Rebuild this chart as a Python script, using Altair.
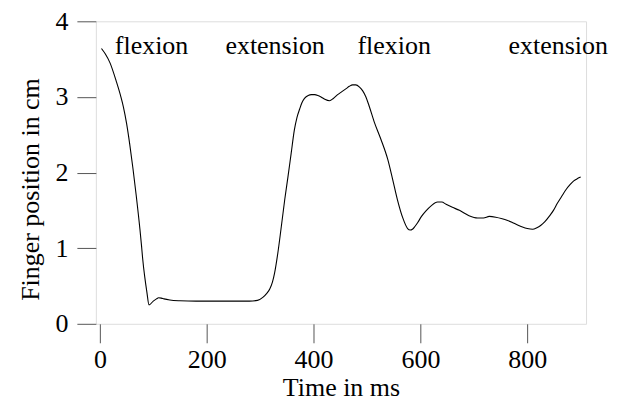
import altair as alt
import pandas as pd

# Time (ms) and finger position (cm)
time_ms = [3, 10, 19, 31, 39, 44, 50, 56, 62, 68, 75, 78, 80, 84, 88, 92,
           100, 106, 110, 115, 120, 131, 150, 180, 220, 260, 280, 295, 305,
           312, 318, 323, 327, 333, 339, 346, 352, 358, 364, 369, 374, 378,
           383, 390, 396, 402, 408, 414, 421, 430, 437, 445, 453, 461, 467,
           473, 479, 486, 492, 498, 504, 514, 526, 539, 548, 557, 567, 576,
           581, 585, 590, 595, 602, 610, 620, 632, 640, 648, 660, 673, 691,
           707, 718, 729, 741, 753, 762, 772, 781, 791, 800, 810, 818, 825,
           833, 841, 849, 856, 864, 872, 880, 887, 894, 900]
position_cm = [3.64, 3.57, 3.45, 3.20, 3.01, 2.87, 2.65, 2.37, 2.05, 1.70,
               1.25, 1.03, 0.87, 0.62, 0.42, 0.25,
               0.30, 0.33, 0.345, 0.34, 0.33, 0.315, 0.305, 0.30, 0.30, 0.30,
               0.30, 0.31, 0.35, 0.40, 0.46, 0.55, 0.67, 0.93, 1.25, 1.64,
               1.94, 2.25, 2.56, 2.73, 2.84, 2.92, 2.98, 3.02, 3.03, 3.03,
               3.02, 3.00, 2.97, 2.95, 2.98, 3.03, 3.07, 3.11, 3.14, 3.16,
               3.16, 3.13, 3.08, 3.00, 2.88, 2.66, 2.44, 2.17, 1.91, 1.64,
               1.40, 1.26, 1.24, 1.25, 1.29, 1.34, 1.42, 1.49, 1.56, 1.61,
               1.61, 1.58, 1.54, 1.50, 1.43, 1.40, 1.40, 1.42, 1.41, 1.39,
               1.37, 1.34, 1.31, 1.28, 1.26, 1.25, 1.27, 1.30, 1.35, 1.42,
               1.50, 1.59, 1.68, 1.77, 1.84, 1.89, 1.92, 1.94]

label_text = ["flexion", "extension", "flexion", "extension"]
label_x = [28, 235, 482, 765]
label_y = [3.57, 3.57, 3.57, 3.57]

x_ticks = [0, 200, 400, 600, 800]
y_ticks = [0, 1, 2, 3, 4]

df = pd.DataFrame({"t": time_ms, "p": position_cm})
lab = pd.DataFrame({"text": label_text, "x": label_x, "y": label_y})

FONT = "Liberation Serif"
FS = 26

x_scale = alt.Scale(domain=[-7.5, 910], nice=False, zero=False)
y_scale = alt.Scale(domain=[0, 4], nice=False)

x_axis = alt.Axis(values=x_ticks, format="d", title="Time in ms", grid=False,
                  domain=False, tickSize=19, tickColor="#555", labelPadding=4,
                  labelFlush=False, labelFont=FONT, labelFontSize=FS,
                  labelColor="black", titleFont=FONT, titleFontSize=FS,
                  titleFontWeight="normal", titleColor="black", titlePadding=2)
y_axis = alt.Axis(values=y_ticks, format="d", title="Finger position in cm",
                  grid=False, domain=False, tickSize=19, tickColor="#555",
                  labelPadding=9, labelFlush=False, labelFont=FONT,
                  labelFontSize=FS, labelColor="black", titleFont=FONT,
                  titleFontSize=FS, titleFontWeight="normal",
                  titleColor="black", titlePadding=11, titleY=168)

line = alt.Chart(df).mark_line(color="black", strokeWidth=1.1, clip=True,
                               interpolate="monotone").encode(
    x=alt.X("t:Q", scale=x_scale, axis=x_axis),
    y=alt.Y("p:Q", scale=y_scale, axis=y_axis),
)

text = alt.Chart(lab).mark_text(align="left", baseline="alphabetic", font=FONT,
                                fontSize=FS, color="black").encode(
    x=alt.X("x:Q", scale=x_scale),
    y=alt.Y("y:Q", scale=y_scale),
    text="text:N",
)

chart = (line + text).properties(
    width=491, height=303,
    autosize=alt.AutoSizeParams(type="none"),
    padding={"left": 88, "top": 13, "right": 25, "bottom": 80},
).configure_view(stroke="#555", strokeWidth=1.2).configure(background="white")

chart.save("out.html", embed_options={"renderer": "svg", "actions": False})
